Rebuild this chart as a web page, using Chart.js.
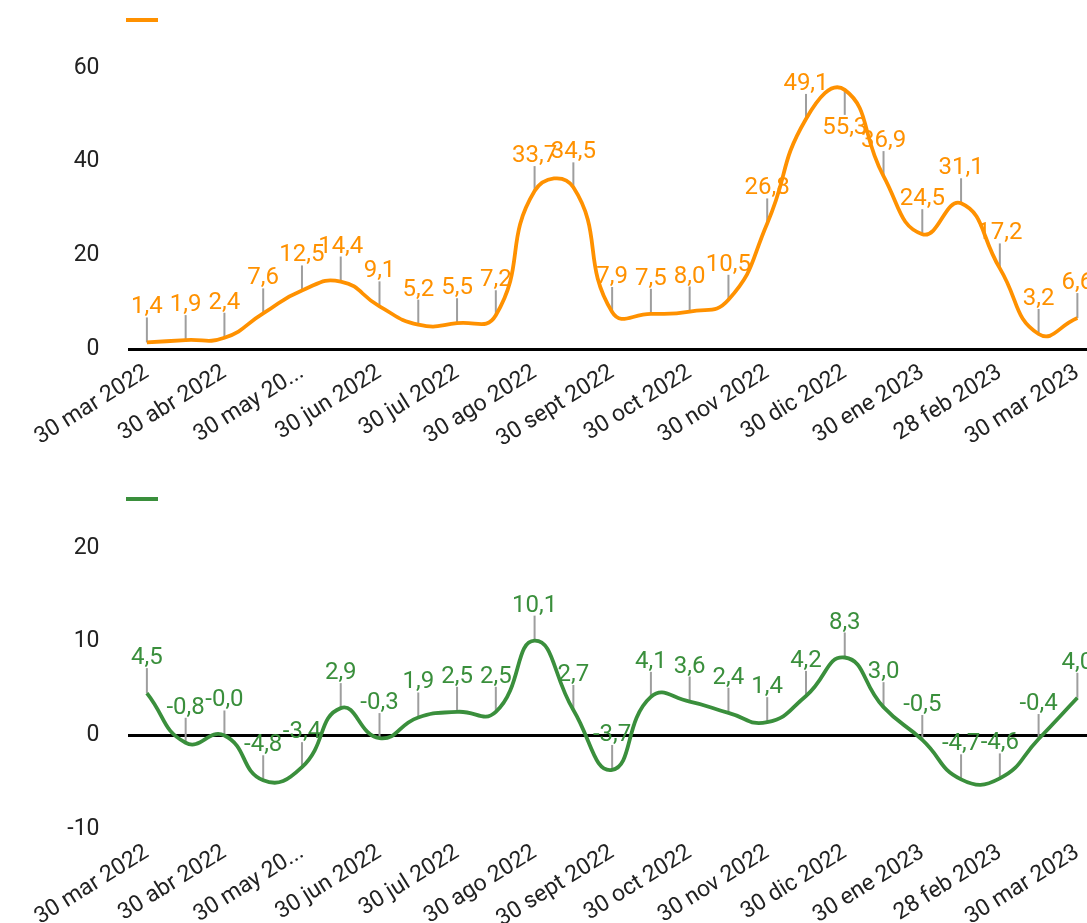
<!DOCTYPE html>
<html>
<head>
<meta charset="utf-8">
<script src="https://cdn.jsdelivr.net/npm/chart.js@4/dist/chart.umd.min.js"></script>
<style>
    html, body { margin: 0; padding: 0; background: #fff; overflow: hidden; }
    .panel { position: relative; width: 1102px; }
    #top  { height: 470px; }
    #bot  { height: 453px; }
</style>
</head>
<body>
<div class="panel" id="top"><canvas id="chartTop"></canvas></div>
<div class="panel" id="bot"><canvas id="chartBot"></canvas></div>
<script>
// ============================================================
//  DATA
// ============================================================
const categories = [
    '30 mar 2022', '15 abr 2022', '30 abr 2022', '15 may 2022', '30 may 2022',
    '15 jun 2022', '30 jun 2022', '15 jul 2022', '30 jul 2022', '15 ago 2022',
    '30 ago 2022', '15 sept 2022', '30 sept 2022', '15 oct 2022', '30 oct 2022',
    '15 nov 2022', '30 nov 2022', '15 dic 2022', '30 dic 2022', '15 ene 2023',
    '30 ene 2023', '15 feb 2023', '28 feb 2023', '15 mar 2023', '30 mar 2023'
];
const tickLabels = [
    '30 mar 2022', '30 abr 2022', '30 may 20...', '30 jun 2022', '30 jul 2022',
    '30 ago 2022', '30 sept 2022', '30 oct 2022', '30 nov 2022', '30 dic 2022',
    '30 ene 2023', '28 feb 2023', '30 mar 2023'
];
const topValues = [
    1.4, 1.9, 2.4, 7.6, 12.5, 14.4, 9.1, 5.2, 5.5, 7.2, 33.7, 34.5, 7.9,
    7.5, 8.0, 10.5, 26.8, 49.1, 55.3, 36.9, 24.5, 31.1, 17.2, 3.2, 6.6
];
const botValues = [
    4.5, -0.8, -0.02, -4.8, -3.4, 2.9, -0.3, 1.9, 2.5, 2.5, 10.1, 2.7, -3.7,
    4.1, 3.6, 2.4, 1.4, 4.2, 8.3, 3.0, -0.5, -4.7, -4.6, -0.4, 4.0
];

const FONT   = 'Roboto, "Noto Sans", sans-serif';
const ORANGE = '#ff9100';
const GREEN  = '#3a8f3c';

// gray stalks + value labels, like the sheets export
const valueLabels = {
    id: 'valueLabels',
    beforeDatasetsDraw(chart) {
        const ctx  = chart.ctx;
        const meta = chart.getDatasetMeta(0);
        const topY = topTickY(chart);
        ctx.save();
        ctx.strokeStyle = '#9e9e9e';
        ctx.lineWidth = 2;
        meta.data.forEach(function (pt) {
            const below = pt.y - 44 < topY;
            ctx.beginPath();
            ctx.moveTo(pt.x, pt.y);
            ctx.lineTo(pt.x, below ? pt.y + 25 : pt.y - 25);
            ctx.stroke();
        });
        ctx.restore();
    },
    afterDatasetsDraw(chart) {
        const ctx  = chart.ctx;
        const ds   = chart.data.datasets[0];
        const meta = chart.getDatasetMeta(0);
        const topY = topTickY(chart);
        ctx.save();
        ctx.font = '24px ' + FONT;
        ctx.fillStyle = ds.borderColor;
        ctx.textAlign = 'center';
        ctx.textBaseline = 'middle';
        meta.data.forEach(function (pt, i) {
            const below = pt.y - 44 < topY;
            const txt = ds.data[i].toFixed(1).replace('.', ',');
            ctx.fillText(txt, pt.x, below ? pt.y + 38 : pt.y - 35);
        });
        ctx.restore();
    },
    afterDraw(chart) {
        // legend swatch (no text in the original)
        const ctx = chart.ctx;
        const a   = chart.chartArea;
        const ly  = chart.options.plugins.valueLabels.legendY;
        ctx.save();
        ctx.strokeStyle = chart.data.datasets[0].borderColor;
        ctx.lineWidth = 4;
        ctx.beginPath();
        ctx.moveTo(a.left - 1.5, ly);
        ctx.lineTo(a.left + 30.5, ly);
        ctx.stroke();
        ctx.restore();
    }
};

function topTickY(chart) {
    const y = chart.scales.y;
    return y.getPixelForValue(y.ticks[y.ticks.length - 1].value);
}

function makeChart(id, values, color, yMin, yMax, step, padTop, xHeight, legendY) {
    return new Chart(document.getElementById(id), {
        type: 'line',
        data: {
            labels: categories,
            datasets: [{
                data: values,
                borderColor: color,
                borderWidth: 3.8,
                tension: 0.5,
                pointRadius: 0,
                fill: false
            }]
        },
        options: {
            responsive: true, maintainAspectRatio: false, animation: false,
            layout: { padding: { top: padTop, right: 0, left: 0, bottom: 0 } },
            plugins: {
                legend: { display: false },
                tooltip: { enabled: false },
                valueLabels: { legendY: legendY }
            },
            scales: {
                x: {
                    offset: true,
                    grid: { display: false, drawTicks: false },
                    border: { display: false },
                    afterFit: function (s) { s.height = xHeight; },
                    ticks: {
                        autoSkip: false, minRotation: 32, maxRotation: 32, padding: 10,
                        color: '#222', font: { family: FONT, size: 23 },
                        callback: function (v, i) { return i % 2 === 0 ? tickLabels[i / 2] : ''; }
                    }
                },
                y: {
                    min: yMin, max: yMax,
                    afterFit: function (s) { s.width = 127.5; s.paddingTop = 0; s.paddingBottom = 0; },
                    border: { display: false },
                    grid: {
                        drawTicks: false,
                        lineWidth: 3,
                        color: function (c) { return c.tick && c.tick.value === 0 ? '#000' : 'rgba(0,0,0,0)'; }
                    },
                    ticks: {
                        stepSize: step, includeBounds: false, padding: 28,
                        color: '#222', font: { family: FONT, size: 23 }
                    }
                }
            }
        },
        plugins: [valueLabels]
    });
}

makeChart('chartTop', topValues, ORANGE, 0, 70, 20, 21, 121, 20);
makeChart('chartBot', botValues, GREEN, -10, 25, 10, 31, 94, 29);
</script>
</body>
</html>
